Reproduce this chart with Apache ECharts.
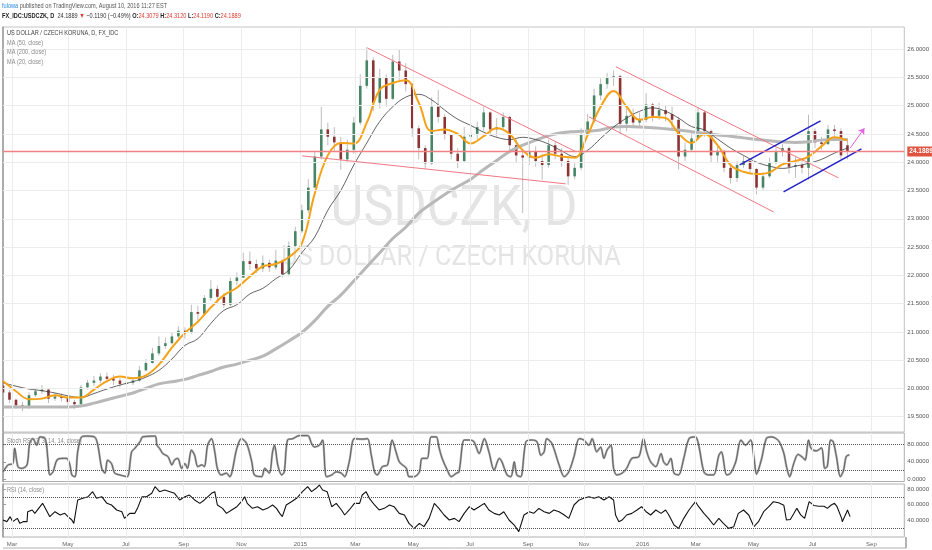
<!DOCTYPE html>
<html><head><meta charset="utf-8">
<script src="https://cdn.jsdelivr.net/npm/echarts@6/dist/echarts.min.js"></script>
<style>html,body{margin:0;padding:0;background:#fff}#c{width:932px;height:550px}</style>
</head><body><div id="c"></div><script>
// x unit: weeks since first visible weekly candle (mid Feb 2014)
const monthTicks = [1.38, 9.99, 18.90, 27.81, 36.72, 45.79, 54.24, 63.15, 71.91, 80.82, 89.43, 98.49, 106.64, 115.55, 124.62, 133.68];
const monthNames = ['Mar','May','Jul','Sep','Nov','2015','Mar','May','Jul','Sep','Nov','2016','Mar','May','Jul','Sep'];
const priceTicks = [19.5,20,20.5,21,21.5,22,22.5,23,23.5,24,24.5,25,25.5,26];
const stochTicks = [0,40,80];
const rsiTicks = [40,60,80];
const lastPrice = 24.1889;

const opens = [20.05,19.93,19.80,19.70,19.66,19.88,19.95,19.98,19.82,19.86,
19.83,19.76,19.72,20.02,20.10,20.14,20.21,20.17,20.14,20.08,
20.10,20.14,20.32,20.45,20.62,20.75,20.80,20.92,21.02,20.98,
21.35,21.32,21.60,21.76,21.62,21.48,21.90,21.96,22.25,22.20,
22.12,22.22,22.14,22.26,22.02,22.52,22.78,23.15,23.55,24.10,
24.58,24.45,24.35,24.05,24.22,24.70,25.35,25.80,25.05,25.50,
25.12,25.78,25.62,25.38,24.60,24.25,23.98,24.98,24.80,24.48,
24.15,24.02,24.45,24.50,24.62,24.88,24.58,24.62,24.80,24.30,
24.12,24.08,24.18,24.02,23.95,24.30,24.15,24.02,23.75,23.90,
24.48,24.72,25.18,25.38,25.50,25.52,24.68,24.82,24.70,24.75,
25.02,24.82,24.92,24.85,24.75,24.10,24.22,24.42,24.88,24.55,
24.12,24.20,23.90,23.72,23.95,24.02,23.88,23.55,23.75,24.00,
24.18,24.25,23.92,23.95,23.90,24.55,24.35,24.32,24.58,24.55,
24.30];
const closes = [19.93,19.80,19.70,19.66,19.88,19.95,19.98,19.82,19.86,19.83,
19.76,19.72,20.02,20.10,20.14,20.21,20.17,20.14,20.08,20.10,
20.14,20.32,20.45,20.62,20.75,20.80,20.92,21.02,20.98,21.35,
21.32,21.60,21.76,21.62,21.48,21.90,21.96,22.25,22.20,22.12,
22.22,22.14,22.26,22.02,22.52,22.78,23.15,23.55,24.10,24.58,
24.45,24.35,24.05,24.22,24.70,25.35,25.80,25.05,25.50,25.12,
25.78,25.62,25.38,24.60,24.25,23.98,24.98,24.80,24.48,24.15,
24.02,24.45,24.50,24.62,24.88,24.58,24.62,24.80,24.30,24.12,
24.08,24.18,24.02,23.95,24.30,24.15,24.02,23.75,23.90,24.48,
24.72,25.18,25.38,25.50,25.52,24.68,24.82,24.70,24.75,25.02,
24.82,24.92,24.85,24.75,24.10,24.22,24.42,24.88,24.55,24.12,
24.20,23.90,23.72,23.95,24.02,23.88,23.55,23.75,24.00,24.18,
24.25,23.92,23.95,23.90,24.55,24.35,24.32,24.58,24.55,24.12,
24.1889];
const lows = [19.85,19.74,19.64,19.60,19.64,19.85,19.90,19.74,19.78,19.77,
19.70,19.64,19.72,19.98,20.04,20.10,20.10,20.06,20.02,20.04,
20.06,20.12,20.30,20.44,20.58,20.70,20.78,20.88,20.88,20.96,
21.20,21.28,21.55,21.52,21.42,21.45,21.82,21.95,22.10,22.04,
22.06,22.06,22.10,21.96,21.98,22.48,22.75,23.10,23.55,24.05,
24.30,24.20,23.87,24.00,24.15,24.66,25.30,24.90,24.95,24.98,
25.10,25.45,25.25,24.45,24.05,23.88,23.95,24.70,24.40,24.05,
23.90,24.00,24.35,24.40,24.55,24.48,24.45,24.58,24.18,24.00,
23.10,23.95,23.92,23.69,23.90,24.05,23.92,23.60,23.70,23.86,
24.45,24.70,25.10,25.30,25.35,24.50,24.55,24.60,24.62,24.70,
24.72,24.75,24.72,24.60,23.87,24.02,24.20,24.40,24.45,24.00,
23.98,23.82,23.62,23.65,23.90,23.80,23.43,23.50,23.72,23.96,
24.10,23.80,23.72,23.80,23.69,24.25,24.22,24.30,24.45,24.05,
24.05];
const highs = [20.08,19.97,19.82,19.76,19.93,20.00,20.06,20.00,19.92,19.91,
19.86,19.80,20.06,20.15,20.22,20.27,20.28,20.24,20.18,20.16,
20.20,20.40,20.52,20.72,20.92,20.90,21.00,21.10,21.08,21.48,
21.46,21.65,21.92,21.82,21.68,21.96,22.05,22.40,22.42,22.28,
22.35,22.28,22.45,22.28,22.60,22.86,23.25,23.70,24.20,24.98,
24.70,24.62,24.45,24.40,24.80,25.55,26.04,25.85,25.65,25.55,
25.90,25.99,25.75,25.40,24.65,24.30,25.15,25.28,24.85,24.50,
24.25,24.62,24.70,24.72,24.98,24.90,24.78,24.88,24.82,24.40,
24.20,24.32,24.28,24.15,24.40,24.38,24.25,24.08,23.98,24.60,
24.85,25.30,25.48,25.58,25.62,25.55,24.95,24.95,24.88,25.22,
25.05,25.05,25.00,24.98,24.80,24.35,24.55,24.98,24.92,24.58,
24.30,24.22,23.95,24.02,24.12,24.05,23.90,23.82,24.08,24.26,
24.32,24.28,24.10,24.05,24.84,24.60,24.45,24.66,24.66,24.60,
24.42];

// moving averages, one reading every 2 weeks
const ma20 = [20.13,19.95,19.81,19.82,19.88,19.84,19.84,19.98,20.13,20.21,
20.18,20.23,20.42,20.72,20.98,21.18,21.43,21.65,21.78,21.98,
22.16,22.20,22.32,22.56,23.45,24.12,24.34,24.33,24.70,25.28,
25.40,25.45,25.05,24.55,24.58,24.50,24.33,24.46,24.60,24.50,
24.21,24.08,24.14,24.10,24.08,24.48,24.98,25.26,24.98,24.75,
24.80,24.78,24.51,24.34,24.50,24.30,23.95,23.83,23.79,23.82,
23.96,24.02,24.10,24.28,24.44,24.38];
const ma50 = [20.10,20.04,19.99,19.96,19.92,19.87,19.84,19.91,19.99,20.06,
20.12,20.20,20.32,20.52,20.76,20.88,21.15,21.38,21.48,21.67,
21.77,21.94,22.09,22.40,22.68,23.15,23.50,23.95,24.34,24.72,
24.98,25.15,25.20,25.10,24.92,24.76,24.65,24.53,24.44,24.40,
24.44,24.40,24.32,24.20,24.10,24.21,24.42,24.62,24.78,24.90,
24.96,24.90,24.78,24.63,24.57,24.41,24.25,24.12,24.00,23.93,
23.89,23.93,23.98,24.05,24.16,24.25];
const ma200 = [19.67,19.67,19.67,19.67,19.67,19.67,19.69,19.74,19.80,19.86,
19.92,20.00,20.08,20.12,20.16,20.23,20.30,20.38,20.43,20.50,
20.57,20.70,20.84,20.99,21.20,21.45,21.65,21.90,22.15,22.40,
22.65,22.85,23.10,23.27,23.43,23.57,23.70,23.87,24.03,24.19,
24.30,24.39,24.47,24.52,24.54,24.55,24.57,24.62,24.63,24.62,
24.61,24.59,24.57,24.54,24.51,24.48,24.46,24.43,24.40,24.38,
24.36,24.35,24.36,24.39,24.40,24.40];

const stochRsi = [[0,17],[0.8,33],[1.5,36],[1.8,71],[2.3,29],[2.9,25],[3.7,33],[4.1,82],[4.6,93],[5.2,78],[5.7,97],[6.5,93],[6.9,48],[7.2,10],[7.7,17],[8.3,44],[9.1,48],[9.8,48],[10.3,33],[10.6,10],[11.1,6],[11.5,63],[12.1,97],[12.9,99],[14.1,97],[14.6,78],[15.2,25],[15.7,14],[16.1,44],[16.7,36],[17.2,14],[18.0,10],[19.1,6],[19.8,63],[20.3,71],[21.1,86],[21.5,97],[23.4,99],[23.7,78],[24.1,71],[24.6,59],[25.4,52],[26.0,33],[26.4,44],[26.9,48],[27.5,25],[28.0,36],[28.4,25],[29.0,67],[29.5,55],[30.0,29],[30.6,33],[31.0,29],[31.5,78],[32.1,93],[32.6,63],[33.0,25],[33.6,10],[34.4,14],[34.9,6],[36.0,71],[36.7,93],[37.5,82],[38.3,40],[38.7,10],[39.8,6],[40.3,25],[41.0,14],[41.5,63],[41.8,78],[42.3,33],[42.9,10],[43.3,17],[43.8,90],[44.6,93],[45.6,100],[46.9,100],[47.5,82],[47.9,74],[48.7,78],[49.2,90],[49.8,6],[50.6,10],[51.3,17],[52.1,14],[52.6,6],[53.3,40],[54.1,93],[55.3,92],[56.1,93],[56.7,55],[57.2,17],[57.6,10],[58.4,29],[59.2,33],[59.9,90],[60.5,63],[61.0,40],[61.5,33],[62.1,25],[62.5,6],[63.3,6],[64.1,17],[64.5,48],[65.3,48],[65.9,97],[66.7,97],[67.1,74],[67.6,48],[68.4,21],[69.0,6],[69.8,14],[70.2,17],[71.0,90],[71.8,90],[72.5,86],[73.3,59],[74.1,93],[74.8,63],[75.6,21],[76.4,48],[76.8,40],[77.6,10],[78.2,6],[78.7,40],[79.1,10],[79.7,6],[80.5,86],[81.4,90],[82.2,86],[82.8,55],[83.3,63],[83.7,93],[84.5,82],[85.6,33],[86.4,6],[87.1,17],[87.9,52],[88.7,93],[89.4,90],[90.2,78],[90.7,93],[91.4,63],[92.0,74],[92.5,48],[93.0,67],[93.6,78],[94.0,25],[94.5,10],[95.3,14],[96.0,25],[96.8,48],[97.9,52],[98.6,93],[99.1,63],[99.7,40],[100.5,29],[101.3,59],[101.7,40],[102.2,33],[102.8,48],[103.3,14],[104.0,10],[104.8,48],[105.6,93],[106.6,97],[107.1,78],[107.9,17],[108.6,10],[109.4,10],[110.2,55],[110.6,63],[111.4,10],[112.0,14],[112.8,40],[113.6,90],[114.3,78],[115.1,90],[115.6,50],[116.0,12],[116.8,48],[117.5,93],[118.3,97],[119.4,88],[120.2,60],[120.6,30],[121.1,6],[121.7,35],[122.4,57],[123.1,50],[123.5,44],[124.0,90],[124.4,71],[125.2,65],[126.0,72],[126.5,25],[126.9,30],[127.4,90],[127.8,86],[128.3,52],[128.9,6],[129.4,21],[129.8,52],[130.3,56]];

const rsi = [[0,40.4],[0.6,38.3],[1.1,44.7],[1.5,38.3],[2.2,42.5],[2.6,36.1],[3.1,38.3],[3.7,38.3],[3.8,51],[4.5,53.2],[4.9,48.9],[5.7,57.4],[6.1,61.7],[6.8,51],[7.2,44.7],[8.0,51],[8.8,46.8],[9.5,48.9],[10.0,44.7],[10.6,40.4],[10.9,36.1],[11.5,66],[12.3,68.1],[13.1,70.2],[13.8,76.6],[14.4,68.1],[15.2,70.2],[16.0,61.7],[16.7,59.6],[17.5,53.2],[18.3,51],[18.7,42.5],[19.5,48.9],[20.3,48.9],[20.7,55.3],[21.4,70.2],[22.1,70.2],[22.9,74.5],[23.4,83],[24.1,76.6],[24.9,78.7],[25.7,76.6],[26.4,74.5],[27.2,66],[28.0,70.2],[28.7,72.3],[29.5,66],[30.3,61.7],[31.0,66],[32.1,74.5],[32.6,76.6],[33.0,59.6],[33.8,55.3],[34.4,48.9],[35.2,53.2],[36.0,57.4],[36.7,63.8],[37.2,70.2],[37.6,61.7],[38.4,55.3],[39.2,57.4],[40.0,53.2],[40.7,55.3],[41.5,59.6],[42.1,55.3],[42.6,48.9],[43.0,44.7],[43.6,59.6],[44.4,63.8],[45.2,68.1],[46.1,76.6],[46.9,83],[47.5,76.6],[48.2,80.9],[48.7,85.1],[49.2,78.7],[49.9,76.6],[50.6,57.4],[51.3,61.7],[52.1,53.2],[52.6,46.8],[53.3,53.2],[54.1,61.7],[54.9,61.7],[55.3,72.3],[55.9,76.6],[56.4,68.1],[57.2,59.6],[57.9,53.2],[58.7,55.3],[59.5,59.6],[60.2,57.4],[61.0,48.9],[61.8,46.8],[62.5,36.1],[63.3,29.7],[64.1,36.1],[64.8,31.9],[65.6,42.5],[66.4,61.7],[67.1,55.3],[67.9,46.8],[68.7,40.4],[69.5,42.5],[70.2,38.3],[71.0,48.9],[71.8,57.4],[72.5,53.2],[73.3,57.4],[74.1,61.7],[74.8,53.2],[75.6,48.9],[76.4,46.8],[77.1,51],[77.9,40.4],[78.7,34],[79.4,25.5],[80.2,46.8],[81.0,51],[81.7,48.9],[82.5,55.3],[83.3,51],[84.1,48.9],[84.8,53.2],[85.6,51],[86.4,46.8],[87.1,42.5],[87.9,59.6],[88.7,66],[89.4,68.1],[90.2,70.2],[91.0,68.1],[91.7,70.2],[92.5,66],[93.3,70.2],[94.0,66],[94.3,46.8],[94.8,38.3],[95.3,40.4],[96.0,46.8],[96.8,48.9],[97.6,53.2],[98.3,57.4],[99.0,51],[99.7,46.8],[100.5,53.2],[101.3,48.9],[102.0,53.2],[102.5,46.8],[103.3,34],[104.0,29.7],[104.8,42.5],[105.6,53.2],[106.6,63.8],[107.1,57.4],[107.9,48.9],[108.6,42.5],[109.4,34],[110.2,42.5],[110.9,36.1],[111.7,29.7],[112.5,31.9],[113.2,48.9],[114.0,53.2],[114.8,46.8],[115.6,31.9],[116.3,38.3],[117.1,51],[117.9,57.4],[118.6,63.8],[119.4,62.5],[120.2,59.4],[120.6,40.4],[121.2,41],[121.7,48],[122.2,55.3],[122.8,47],[123.4,42.5],[123.7,40],[124.1,63.8],[124.8,59],[125.6,58],[126.4,58],[126.9,55.3],[127.5,59.6],[128.0,61.7],[128.4,57.4],[129.1,42.5],[129.2,38.3],[129.8,48.9],[130.0,53.2],[130.4,44.7]];

// hand-drawn trend lines [week, price]
const redLines = [[[56.13,26.018],[88.15,24.188]], [[46.05,24.112],[86.62,23.617]], [[94.35,25.687],[128.61,23.723]], [[90.20,24.802],[118.62,23.121]]];
const blueLines = [[[113.40,23.953],[125.85,24.731]], [[120.16,23.475],[132.15,24.236]]];
const arrowLine = [[130.41,24.248],[132.61,24.602]];

const X_MIN = 0, X_MAX = 138.75;
const chart = echarts.init(document.getElementById('c'), null, {renderer:'canvas'});
const candleData = opens.map((o,i)=>[i, o, closes[i], lows[i], highs[i]]);
const toPairs = arr => arr.map((v,k)=>[2*k, v]);
const smallFont = '"Liberation Sans", Arial, sans-serif';
const gridLineStyle = {color:'#ececec', width:1, type:'solid'};
function vLines(){ return monthTicks.map(v=>({xAxis:v})); }
function monthLabel(v){ let bi=0,bd=1e9; monthTicks.forEach((t,i)=>{const d=Math.abs(t-v); if(d<bd){bd=d;bi=i;}}); return monthNames[bi]; }

function xAx(gi, showLabel){
  return {type:'value', gridIndex:gi, min:X_MIN, max:X_MAX,
    axisLine:{show:false}, axisTick:{show:false}, splitLine:{show:false},
    axisLabel: showLabel ? {show:true, customValues: monthTicks, formatter: monthLabel, fontSize:6, color:'#666', margin:4, fontFamily: smallFont} : {show:false}};
}
function yAx(gi, min, max, ticks){
  return {type:'value', gridIndex:gi, position:'right', min:min, max:max,
    axisLine:{show:true, lineStyle:{color:'#9a9a9a', width:1.5}},
    axisTick:{show:true, customValues:ticks, length:3, lineStyle:{color:'#9a9a9a'}},
    axisLabel:{show:true, customValues:ticks, formatter:v=>v.toFixed(4), fontSize:6, color:'#555', margin:3, fontFamily: smallFont},
    splitLine:{show:false}};
}

const option = {
  animation:false,
  backgroundColor:'#fff',
  grid:[
    {left:3, right:26, top:27, height:405, show:true, borderColor:'#c4c4c4', borderWidth:1},
    {left:3, right:26, top:433, height:48.5, show:true, borderColor:'#b0b0b0', borderWidth:1},
    {left:3, right:26, top:484, height:53, show:true, borderColor:'#b0b0b0', borderWidth:1}
  ],
  xAxis:[xAx(0,false), xAx(1,false), xAx(2,true)],
  yAxis:[yAx(0,19.23,26.39,priceTicks), yAx(1,-5,106,stochTicks), yAx(2,18.7,86.4,rsiTicks)],
  graphic:[
    {type:'text', x:454, y:211, scaleX:0.92, z:1, silent:true, style:{text:'USDCZK, D', font:'55px Roboto, sans-serif', fill:'#e4e4e4', align:'center', verticalAlign:'middle'}},
    {type:'text', x:451, y:258, scaleX:0.9, z:1, silent:true, style:{text:'US DOLLAR / CZECH KORUNA', font:'28px Roboto, sans-serif', fill:'#e4e4e4', align:'center', verticalAlign:'middle'}},
    {type:'text', x:2, y:6, scaleX:0.8, z:10, style:{text:'{a|fulowa} published on TradingView.com, August 10, 2016 11:27 EST', font:'7px '+smallFont, fill:'#555', verticalAlign:'middle', rich:{a:{fill:'#2a8ae0', font:'7px '+smallFont}}}},
    {type:'text', x:2, y:16.5, scaleX:0.8, z:10, style:{text:'{b|FX_IDC:USDCZK, D}  24.1889 {r|▼} −0.1190 (−0.49%) {b|O:}{r|24.3079} {b|H:}{r|24.3120} {b|L:}{r|24.1190} {b|C:}{r|24.1889}', font:'7px '+smallFont, fill:'#333', verticalAlign:'middle', rich:{b:{fill:'#222', font:'bold 7px '+smallFont}, r:{fill:'#e03a2f', font:'7px '+smallFont}}}},
    {type:'text', x:7, y:33.5, scaleX:0.8, z:10, style:{text:'US DOLLAR / CZECH KORUNA, D, FX_IDC', font:'7px '+smallFont, fill:'#444', verticalAlign:'middle'}},
    {type:'text', x:7, y:43, scaleX:0.8, z:10, style:{text:'MA (50, close)', font:'7px '+smallFont, fill:'#8a8a8a', verticalAlign:'middle'}},
    {type:'text', x:7, y:52.5, scaleX:0.8, z:10, style:{text:'MA (200, close)', font:'7px '+smallFont, fill:'#8a8a8a', verticalAlign:'middle'}},
    {type:'text', x:7, y:62, scaleX:0.8, z:10, style:{text:'MA (20, close)', font:'7px '+smallFont, fill:'#8a8a8a', verticalAlign:'middle'}},
    {type:'text', x:7, y:441, scaleX:0.8, z:10, style:{text:'Stoch RSI (3, 3, 14, 14, close)', font:'7px '+smallFont, fill:'#8a8a8a', verticalAlign:'middle'}},
    {type:'text', x:7, y:490.5, scaleX:0.8, z:10, style:{text:'RSI (14, close)', font:'7px '+smallFont, fill:'#8a8a8a', verticalAlign:'middle'}},
    {type:'line', z:10, shape:{x1:3, y1:548, x2:906, y2:548}, style:{stroke:'#b0b0b0', lineWidth:1}},
    {type:'line', z:10, shape:{x1:906, y1:537, x2:906, y2:548}, style:{stroke:'#9a9a9a', lineWidth:1.5}}
  ],
  series:[
    // grid lines
    {type:'line', xAxisIndex:0, yAxisIndex:0, data:[], z:0, silent:true,
      markLine:{silent:true, symbol:'none', label:{show:false}, lineStyle:gridLineStyle,
        data: vLines().concat(priceTicks.map(v=>({yAxis:v})))}},
    {type:'line', xAxisIndex:1, yAxisIndex:1, data:[], z:0, silent:true,
      markLine:{silent:true, symbol:'none', label:{show:false}, lineStyle:gridLineStyle, data: vLines()}},
    {type:'line', xAxisIndex:2, yAxisIndex:2, data:[], z:0, silent:true,
      markLine:{silent:true, symbol:'none', label:{show:false}, lineStyle:gridLineStyle, data: vLines()}},
    // candles
    {type:'custom', xAxisIndex:0, yAxisIndex:0, z:2, clip:true, data:candleData,
      encode:{x:0, y:[1,2,3,4]},
      renderItem:(params, api)=>{
        const x=api.value(0), o=api.value(1), c=api.value(2), l=api.value(3), h=api.value(4);
        const pH=api.coord([x,h]), pL=api.coord([x,l]), pO=api.coord([x,o]), pC=api.coord([x,c]);
        const w=2.6, up=c>=o;
        const top=Math.min(pO[1],pC[1]), ht=Math.max(1,Math.abs(pO[1]-pC[1]));
        return {type:'group', children:[
          {type:'line', shape:{x1:pH[0], y1:pH[1], x2:pL[0], y2:pL[1]}, style:{stroke:'#bdbdbd', lineWidth:1}},
          {type:'rect', shape:{x:pO[0]-w/2, y:top, width:w, height:ht}, style:{fill: up?'#478565':'#8c3434'}}
        ]};
      }},
    // last-price line spanning the axis range, with its price tag at the right
    {type:'line', xAxisIndex:0, yAxisIndex:0, z:6, silent:true, showSymbol:false,
      data:[[X_MIN,lastPrice],[X_MAX,lastPrice]],
      lineStyle:{color:'#f28282', width:1.3}, itemStyle:{color:'#f28282'},
      endLabel:{show:true, formatter:lastPrice.toFixed(4), color:'#fff', backgroundColor:'#e0533f', padding:[2,2,1,2], fontSize:6.5, fontWeight:'bold', fontFamily: smallFont, distance:3}},
    {name:'MA200', type:'line', xAxisIndex:0, yAxisIndex:0, z:3, data:toPairs(ma200), showSymbol:false, smooth:0.4, lineStyle:{color:'#b8b8b8', width:3}},
    {name:'MA50', type:'line', xAxisIndex:0, yAxisIndex:0, z:3, data:toPairs(ma50), showSymbol:false, smooth:0.4, lineStyle:{color:'#3c3c3c', width:0.8}},
    {name:'MA20', type:'line', xAxisIndex:0, yAxisIndex:0, z:4, data:toPairs(ma20), showSymbol:false, smooth:0.4, lineStyle:{color:'#f5a219', width:2}},
    // drawings
    {type:'line', xAxisIndex:0, yAxisIndex:0, data:[], z:5, silent:true,
      markLine:{silent:true, symbol:'none', label:{show:false}, lineStyle:{color:'#f07884', width:1, type:'solid'},
        data: redLines.map(s=>[{coord:s[0]},{coord:s[1]}])}},
    {type:'line', xAxisIndex:0, yAxisIndex:0, data:[], z:5, silent:true,
      markLine:{silent:true, symbol:'none', label:{show:false}, lineStyle:{color:'#2323c8', width:1.6, type:'solid'},
        data: blueLines.map(s=>[{coord:s[0]},{coord:s[1]}])}},
    {type:'line', xAxisIndex:0, yAxisIndex:0, data:[], z:5, silent:true,
      markLine:{silent:true, symbol:['none','arrow'], symbolSize:6, label:{show:false}, lineStyle:{color:'#e660e6', width:1, type:'solid'},
        data: [[{coord:arrowLine[0]},{coord:arrowLine[1]}]]}},
    // Stoch RSI
    {type:'line', xAxisIndex:1, yAxisIndex:1, z:3, data:stochRsi, showSymbol:false, smooth:0.3, lineStyle:{color:'#ababab', width:2.2},
      markLine:{silent:true, symbol:'none', label:{show:false}, lineStyle:{color:'#555', width:1, type:'dotted'}, data:[{yAxis:80},{yAxis:20}]}},
    {type:'line', xAxisIndex:1, yAxisIndex:1, z:4, data:stochRsi, showSymbol:false, smooth:0.3, lineStyle:{color:'#333', width:0.6}},
    // RSI
    {type:'line', xAxisIndex:2, yAxisIndex:2, z:3, data:rsi, showSymbol:false, lineStyle:{color:'#111', width:1.1},
      markLine:{silent:true, symbol:'none', label:{show:false}, lineStyle:{color:'#555', width:1, type:'dotted'}, data:[{yAxis:70},{yAxis:30}]}}
  ]
};
chart.setOption(option);
</script></body></html>
